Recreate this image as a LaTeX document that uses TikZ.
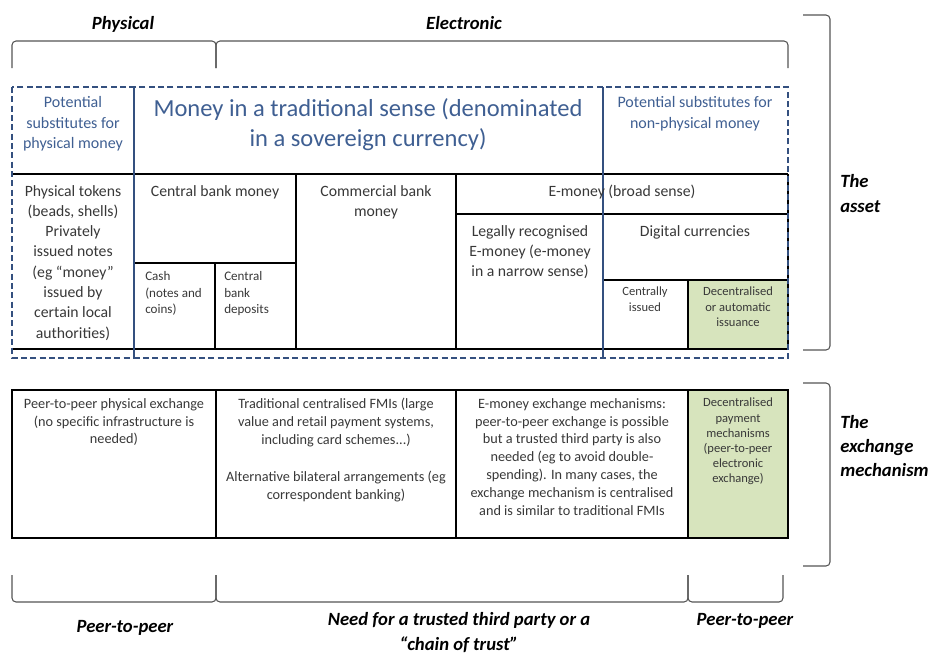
\documentclass[tikz,border=0pt]{standalone}
\usepackage{fontspec}
\setmainfont{Carlito}
\usetikzlibrary{positioning}

\definecolor{dashblue}{HTML}{34507F}
\definecolor{headblue}{HTML}{3F5F92}
\definecolor{cellgreen}{HTML}{D7E4BD}
\definecolor{brackgray}{HTML}{555555}

\begin{document}
\begin{tikzpicture}[x=0.75pt,y=-0.75pt]
\tikzstyle{cell}=[draw=black, line width=1.4pt]
\tikzstyle{dashbox}=[draw=dashblue, line width=1.4pt, dash pattern=on 4.5pt off 2.5pt]
\tikzstyle{brack}=[draw=brackgray, line width=0.8pt, rounded corners=3pt]
\tikzstyle{body}=[inner sep=0, align=center, anchor=north, text=black!78, font=\fontsize{11.8}{15.2}\selectfont]
\tikzstyle{small}=[body, font=\fontsize{9.8}{12.6}\selectfont]
\tikzstyle{tiny}=[body, font=\fontsize{9.4}{11.3}\selectfont]
\tikzstyle{exch}=[body, font=\fontsize{10.7}{13.4}\selectfont]
\tikzstyle{head}=[body, text=headblue, font=\fontsize{12}{15.5}\selectfont]
\tikzstyle{big}=[body, text=headblue, font=\fontsize{18.4}{22.5}\selectfont]
\tikzstyle{tag}=[inner sep=0, align=center, anchor=north, font=\fontsize{14}{18.2}\selectfont\bfseries\itshape]
\useasboundingbox (0,0) rectangle (931,654);

% the asset
\fill[cellgreen] (688,280) rectangle (788,349);
\draw[cell] (12,174) -- (788,174) (12,349) -- (788,349);
\draw[cell] (296,174) -- (296,349) (456,174) -- (456,349) (788,174) -- (788,349);
\draw[cell] (134,263) -- (296,263) (215,263) -- (215,349);
\draw[cell] (456,214) -- (788,214) (603,214) -- (603,349);
\draw[cell] (603,280) -- (788,280) (688,280) -- (688,349);
\draw[dashbox] (12,87) rectangle (134,358);
\draw[dashbox] (134,87) rectangle (788,358);
\draw[draw=dashblue, line width=1pt] (603,87) -- (603,358);

\node[body] (tokens) at (73,185) {Physical tokens\\(beads, shells)\\Privately\\issued notes\\(eg ``money''\\issued by\\certain local\\authorities)};
\node[body] (cbm) at (215,185) {Central bank money};
\node[small, align=left, anchor=north west] (cash) at (145,271) {Cash\\(notes and\\coins)};
\node[small, align=left, anchor=north west] (cbd) at (224,271) {Central\\bank\\deposits};
\node[body] (combank) at (376,185) {Commercial bank\\money};
\node[body] (emoney) at (622,185) {E-money (broad sense)};
\node[body] (legal) at (530,225) {Legally recognised\\E-money (e-money\\in a narrow sense)};
\node[body] (digital) at (695,225) {Digital currencies};
\node[tiny] (central) at (645,287) {Centrally\\issued};
\node[tiny] (decent) at (738,287) {Decentralised\\or automatic\\issuance};

\node[head] (subphys) at (73,96) {Potential\\substitutes for\\physical money};
\node[big] (trad) at (368,98) {Money in a traditional sense (denominated\\in a sovereign currency)};
\node[head] (subnon) at (695,96) {Potential substitutes for\\non-physical money};

% the exchange mechanism
\fill[cellgreen] (688,390) rectangle (788,538);
\draw[cell] (12,390) rectangle (788,538);
\draw[cell] (216,390) -- (216,538) (456,390) -- (456,538) (688,390) -- (688,538);

\node[exch] (p2p) at (114,398) {Peer-to-peer physical exchange\\(no specific infrastructure is\\needed)};
\node[exch] (fmi) at (336,398) {Traditional centralised FMIs (large\\value and retail payment systems,\\including card schemes...)};
\node[exch] (bilat) at (336,471) {Alternative bilateral arrangements (eg\\correspondent banking)};
\node[exch] (emech) at (572,398) {E-money exchange mechanisms:\\peer-to-peer exchange is possible\\but a trusted third party is also\\needed (eg to avoid double-\\spending). In many cases, the\\exchange mechanism is centralised\\and is similar to traditional FMIs};
\node[tiny] (dpay) at (738,398) {Decentralised\\payment\\mechanisms\\(peer-to-peer\\electronic\\exchange)};

% brackets and tags
\draw[brack] (12,68) -- (12,41) -- (216,41) -- (216,68);
\draw[brack] (216,68) -- (216,41) -- (788,41) -- (788,68);
\draw[brack] (12,575) -- (12,602) -- (216,602) -- (216,575);
\draw[brack] (216,575) -- (216,602) -- (688,602) -- (688,575);
\draw[brack] (688,575) -- (688,602) -- (783,602) -- (783,575);
\draw[brack] (803,15) -- (830,15) -- (830,350) -- (803,350);
\draw[brack] (803,383) -- (830,383) -- (830,566) -- (803,566);

\node[tag] (phys) at (123,16.5) {Physical};
\node[tag] (elec) at (464,16.5) {Electronic};
\node[tag, align=left, anchor=north west] (asset) at (840,174.5) {The\\asset};
\node[tag, align=left, anchor=north west] (mech) at (840,415) {The\\exchange\\mechanism};
\node[tag] (peerl) at (125,620.5) {Peer-to-peer};
\node[tag] (trust) at (459,612.5) {Need for a trusted third party or a\\``chain of trust''};
\node[tag] (peerr) at (745,613) {Peer-to-peer};
\end{tikzpicture}
\end{document}
